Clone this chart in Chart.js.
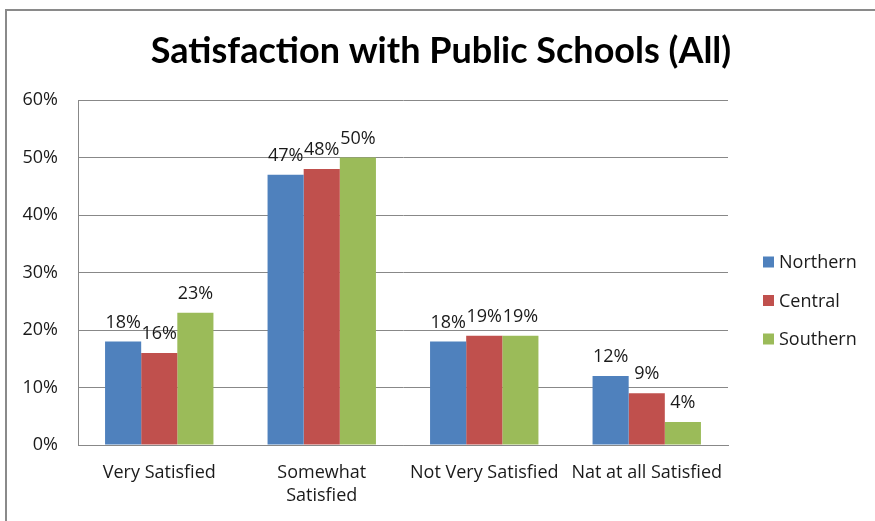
<!DOCTYPE html>
<html>
<head>
<meta charset="utf-8">
<title>Satisfaction with Public Schools (All)</title>
<script src="https://cdn.jsdelivr.net/npm/chart.js@4/dist/chart.umd.min.js"></script>
<style>
  html, body { margin: 0; padding: 0; background: #fff; }
  #wrap { width: 875px; height: 521px; }
</style>
</head>
<body>
<div id="wrap"><canvas id="chart" width="875" height="521"></canvas></div>
<script>
// Datos
const categories = ['Very Satisfied', ['Somewhat', 'Satisfied'], 'Not Very Satisfied', 'Nat at all Satisfied']
const seriesNames = ['Northern', 'Central', 'Southern']
const northern = [18, 47, 18, 12]
const central = [16, 48, 19, 9]
const southern = [23, 50, 19, 4]
const yTicks = [0, 10, 20, 30, 40, 50, 60]
const chartTitle = 'Satisfaction with Public Schools (All)'

const seriesColors = ['#4F81BD', '#C0504D', '#9BBB59']
const FONT = '"Open Sans"'
const TITLE_FONT = 'Lato'

// Marco gris arriba e izquierda (recorte de la captura de Excel)
const framePlugin = {
  id: 'frame',
  beforeDraw(chart) {
    const ctx = chart.ctx
    ctx.save()
    ctx.fillStyle = '#fff'
    ctx.fillRect(0, 0, chart.width, chart.height)
    ctx.strokeStyle = '#8a8a8a'
    ctx.lineWidth = 2
    ctx.beginPath()
    ctx.moveTo(6, chart.height)
    ctx.lineTo(6, 10)
    ctx.lineTo(chart.width, 10)
    ctx.stroke()
    ctx.restore()
  }
}

// Título centrado sobre todo el lienzo (no solo sobre el área del gráfico)
const titlePlugin = {
  id: 'wideTitle',
  afterDraw(chart) {
    const ctx = chart.ctx
    ctx.save()
    ctx.font = `bold 36px ${TITLE_FONT}`
    ctx.fillStyle = '#000'
    ctx.textAlign = 'center'
    ctx.textBaseline = 'alphabetic'
    ctx.fillText(chartTitle, 441, 63)
    ctx.restore()
  }
}

// Etiquetas de valor encima de cada barra
const valueLabels = {
  id: 'valueLabels',
  afterDatasetsDraw(chart) {
    const ctx = chart.ctx
    ctx.save()
    ctx.font = `18px ${FONT}`
    ctx.fillStyle = '#1a1a1a'
    ctx.textAlign = 'center'
    ctx.textBaseline = 'alphabetic'
    chart.data.datasets.forEach((ds, i) => {
      chart.getDatasetMeta(i).data.forEach((bar, j) => {
        ctx.fillText(ds.data[j] + '%', bar.x, bar.y - 14)
      })
    })
    ctx.restore()
  }
}

// Leyenda a la derecha, estilo Excel
const sideLegend = {
  id: 'sideLegend',
  afterDraw(chart) {
    const ctx = chart.ctx
    const area = chart.chartArea
    const x = area.right + 35
    const gap = 38.5
    const y0 = (area.top + area.bottom) / 2 + 28 - gap
    ctx.save()
    ctx.font = `18px ${FONT}`
    ctx.textBaseline = 'middle'
    ctx.textAlign = 'left'
    chart.data.datasets.forEach((ds, i) => {
      const y = y0 + i * gap
      ctx.fillStyle = ds.backgroundColor
      ctx.fillRect(x, y - 5.5, 11, 11)
      ctx.fillStyle = '#1a1a1a'
      ctx.fillText(ds.label, x + 16, y + 1)
    })
    ctx.restore()
  }
}

const values = [northern, central, southern]

new Chart(document.getElementById('chart'), {
  type: 'bar',
  data: {
    labels: categories,
    datasets: seriesNames.map((name, i) => ({
      label: name,
      data: values[i],
      backgroundColor: seriesColors[i],
      borderWidth: 0,
      categoryPercentage: 0.667,
      barPercentage: 1
    }))
  },
  options: {
    responsive: false,
    animation: false,
    layout: { padding: { left: 0, right: 147, top: 100, bottom: 0 } },
    plugins: {
      legend: { display: false },
      tooltip: { enabled: false },
      title: { display: false }
    },
    scales: {
      x: {
        afterFit(scale) { scale.height = 76 },
        grid: { display: false, drawTicks: false },
        border: { display: true, color: '#888', width: 1 },
        ticks: {
          color: '#1a1a1a',
          padding: 16,
          maxRotation: 0,
          autoSkip: false,
          font: { family: FONT, size: 18, lineHeight: 1.3 }
        }
      },
      y: {
        min: 0,
        max: 60,
        afterFit(scale) { scale.width = 78 },
        afterBuildTicks(scale) { scale.ticks = yTicks.map(v => ({ value: v })) },
        grid: { color: '#888', lineWidth: 1, drawTicks: false },
        border: { display: true, color: '#888', width: 1 },
        ticks: {
          color: '#1a1a1a',
          padding: 20,
          font: { family: FONT, size: 18 },
          callback: v => v + '%'
        }
      }
    }
  },
  plugins: [framePlugin, titlePlugin, valueLabels, sideLegend]
})
</script>
</body>
</html>
